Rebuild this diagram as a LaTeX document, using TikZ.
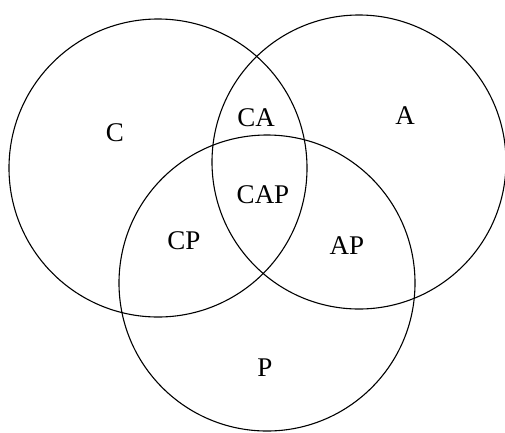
\documentclass[tikz,border=0pt]{standalone}
\usepackage{fontspec}
\setmainfont{Liberation Serif}

\begin{document}
\begin{tikzpicture}[
  x=1pt, y=-1pt,
  font=\fontsize{27}{32}\selectfont,
  set/.style={draw, circle, line width=1.1pt, inner sep=0pt},
  lbl/.style={inner sep=0pt}
]
\useasboundingbox (0,0) rectangle (505,432);

% the three sets
\node[set, minimum size=298pt] (setC) at (158,168) {};
\node[set, minimum size=294pt] (setA) at (359,162) {};
\node[set, minimum size=296pt] (setP) at (267,283) {};

% region labels
\node[lbl] (labC) at (115,133) {C};
\node[lbl] (labA) at (405,116) {A};
\node[lbl] (labP) at (265,368) {P};
\node[lbl] (labCA) at (256,118) {CA};
\node[lbl] (labCAP) at (263,195) {CAP};
\node[lbl] (labCP) at (184,241) {CP};
\node[lbl] (labAP) at (347,246) {AP};
\end{tikzpicture}
\end{document}
